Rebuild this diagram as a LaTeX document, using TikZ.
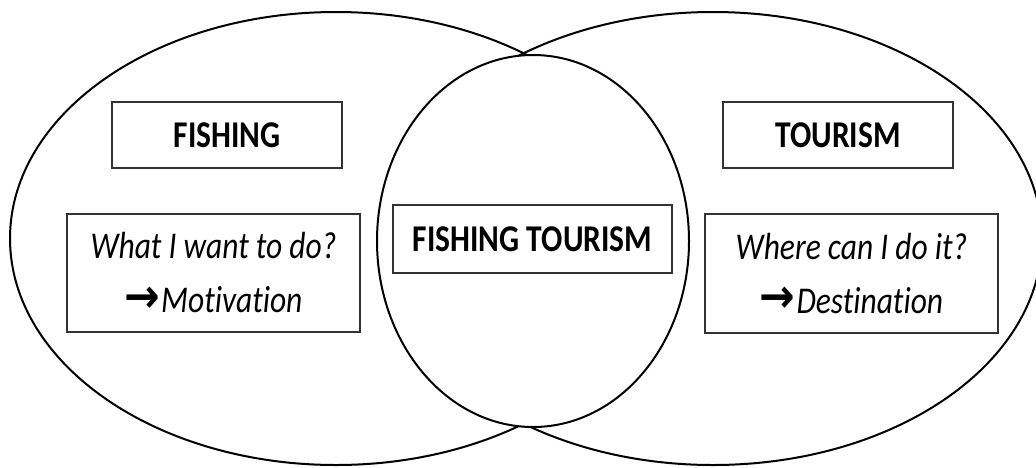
\documentclass[tikz,border=0pt]{standalone}
\usepackage{fontspec}
\usepackage{graphicx}
\setmainfont[Ligatures=NoCommon]{Carlito}
\newfontfamily\arrowfont{DejaVu Sans}
\usetikzlibrary{shapes.geometric}
% text is drawn slightly taller than wide
\newcommand{\tallt}[1]{\scalebox{1}[1.2]{#1}}
\newcommand{\arr}{\raisebox{0.5pt}{\scalebox{1.35}[1.25]{\arrowfont\bfseries →}}\hspace{1pt}}
\tikzset{
  zone/.style={draw=black, line width=2pt, ellipse, inner sep=0pt},
  labelbox/.style={draw=black!80, line width=1.4pt, fill=white, inner sep=0pt,
    font=\fontsize{31.5}{54}\selectfont\bfseries},
  notebox/.style={draw=black!80, line width=1.4pt, fill=white, inner sep=0pt,
    minimum width=293pt, minimum height=118pt},
  notetext/.style={align=center, inner sep=0pt,
    font=\fontsize{31.5}{54}\selectfont\itshape}
}
\begin{document}
\begin{tikzpicture}[x=1pt, y=-1pt]
  \useasboundingbox (0,0) rectangle (1036,467);
  % the two overlapping domains
  \node[zone, minimum width=652pt, minimum height=453pt] (fishing) at (336,238.5) {};
  \node[zone, minimum width=658pt, minimum height=453pt] (tourism) at (713,238.5) {};
  % the overlap, drawn over both
  \node[zone, fill=white, minimum width=312pt, minimum height=372pt] (overlap) at (533,241) {};

  % titles
  \node[labelbox, minimum width=230pt, minimum height=66pt] (fishtitle) at (227,135) {\tallt{FISHING}};
  \node[labelbox, minimum width=230pt, minimum height=66pt] (tourtitle) at (838,135) {\tallt{TOURISM}};
  \node[labelbox, minimum width=279pt, minimum height=68pt] (bothtitle) at (532.5,239) {\tallt{FISHING TOURISM}};

  % notes
  \node[notebox] (fishbox) at (213.5,273) {};
  \node[notetext] (fishnote) at (fishbox.center) {\tallt{What I want to do?}\\ \tallt{\arr Motivation}};
  \node[notebox, minimum height=119pt] (tourbox) at (851.5,273.5) {};
  \node[notetext] (tournote) at (tourbox.center) {\tallt{Where can I do it?}\\ \tallt{\arr Destination}};
\end{tikzpicture}
\end{document}
